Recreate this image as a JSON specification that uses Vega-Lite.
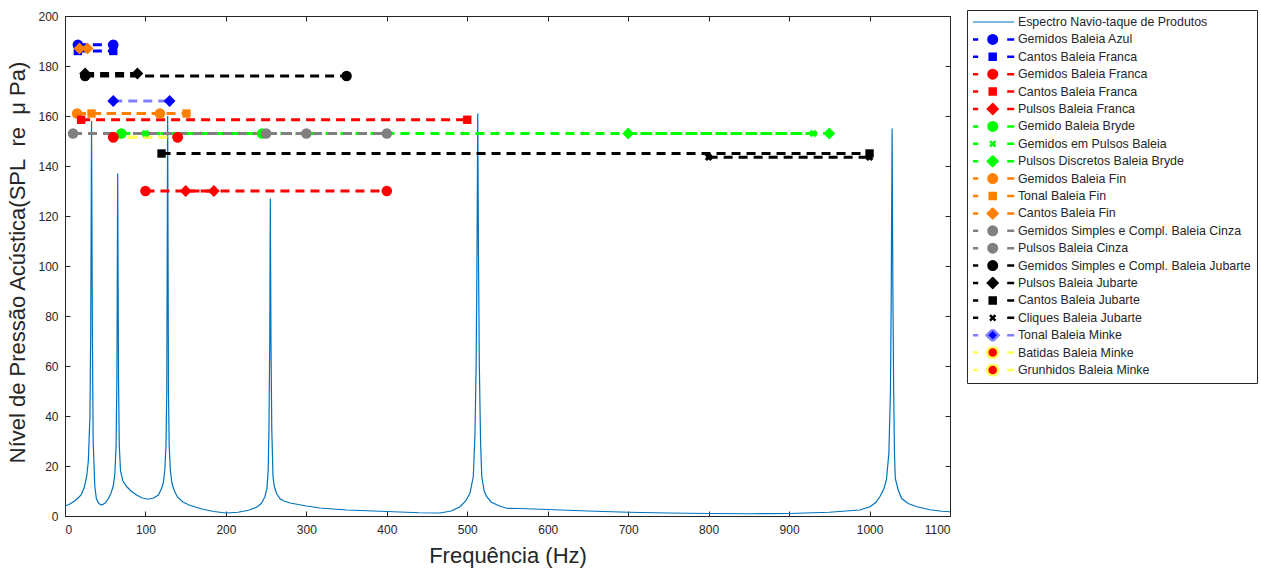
{
  "$schema": "https://vega.github.io/schema/vega-lite/v6.json",
  "width": 885,
  "height": 500,
  "autosize": {"type": "none"},
  "padding": {"left": 65, "top": 16, "right": 311, "bottom": 54},
  "background": "white",
  "config": {
    "font": "Liberation Sans",
    "view": {"stroke": "#262626", "strokeWidth": 1},
    "axis": {
      "grid": false,
      "labelFont": "Liberation Sans",
      "labelFontSize": 12,
      "labelColor": "#262626",
      "tickColor": "#262626",
      "domainColor": "#262626",
      "tickSize": -5,
      "titleFont": "Liberation Sans",
      "titleFontSize": 22,
      "titleFontWeight": "normal",
      "titleColor": "#262626"
    }
  },
  "datasets": {
    "spectrum": [
      {"f": 0, "spl": 4.0}, {"f": 5, "spl": 4.6}, {"f": 10, "spl": 5.6}, {"f": 15, "spl": 6.8}, {"f": 20, "spl": 8.4},
      {"f": 24, "spl": 11.5}, {"f": 27, "spl": 16}, {"f": 29, "spl": 22}, {"f": 31, "spl": 40}, {"f": 32, "spl": 75},
      {"f": 33, "spl": 158}, {"f": 34, "spl": 75}, {"f": 35, "spl": 30}, {"f": 37, "spl": 12}, {"f": 39, "spl": 7},
      {"f": 42, "spl": 5}, {"f": 45.6, "spl": 4.4}, {"f": 50, "spl": 5.2}, {"f": 54, "spl": 7}, {"f": 57, "spl": 9},
      {"f": 60, "spl": 12}, {"f": 62, "spl": 17}, {"f": 63.5, "spl": 28}, {"f": 64.5, "spl": 55}, {"f": 65.5, "spl": 137},
      {"f": 66.5, "spl": 55}, {"f": 67.5, "spl": 28}, {"f": 69, "spl": 18}, {"f": 72, "spl": 14}, {"f": 76.6, "spl": 11.8},
      {"f": 82, "spl": 10}, {"f": 89, "spl": 8.4}, {"f": 96, "spl": 7.2}, {"f": 103.6, "spl": 6.7}, {"f": 110, "spl": 7.2},
      {"f": 116, "spl": 8.4}, {"f": 120, "spl": 11}, {"f": 122, "spl": 13}, {"f": 124, "spl": 18}, {"f": 125.5, "spl": 28},
      {"f": 126.5, "spl": 50}, {"f": 127.6, "spl": 160}, {"f": 128.6, "spl": 50}, {"f": 129.5, "spl": 28}, {"f": 131, "spl": 18},
      {"f": 133, "spl": 13}, {"f": 136, "spl": 10}, {"f": 140, "spl": 7.5}, {"f": 147, "spl": 5.5}, {"f": 155, "spl": 4.3},
      {"f": 170, "spl": 2.8}, {"f": 185, "spl": 1.8}, {"f": 200, "spl": 1.2}, {"f": 215, "spl": 1.5}, {"f": 228, "spl": 2.3},
      {"f": 238, "spl": 3.5}, {"f": 244, "spl": 5}, {"f": 248.6, "spl": 7.8}, {"f": 251, "spl": 11}, {"f": 252.5, "spl": 18},
      {"f": 253.5, "spl": 35}, {"f": 254.5, "spl": 70}, {"f": 255.2, "spl": 127}, {"f": 256, "spl": 70}, {"f": 257, "spl": 35},
      {"f": 258.5, "spl": 16}, {"f": 260, "spl": 12}, {"f": 263, "spl": 9}, {"f": 267, "spl": 7}, {"f": 272, "spl": 6},
      {"f": 280, "spl": 5.2}, {"f": 300, "spl": 4}, {"f": 317, "spl": 3.2}, {"f": 350, "spl": 2.4}, {"f": 400, "spl": 1.8},
      {"f": 440, "spl": 1.3}, {"f": 466, "spl": 1.2}, {"f": 480, "spl": 2}, {"f": 491, "spl": 3.7}, {"f": 498, "spl": 6},
      {"f": 503.4, "spl": 9.2}, {"f": 507.5, "spl": 15.8}, {"f": 509.6, "spl": 33}, {"f": 511, "spl": 60}, {"f": 512, "spl": 100},
      {"f": 513, "spl": 161}, {"f": 514, "spl": 100}, {"f": 515, "spl": 60}, {"f": 516.5, "spl": 30}, {"f": 518, "spl": 15.8},
      {"f": 521, "spl": 10}, {"f": 524, "spl": 7.8}, {"f": 530, "spl": 5.5}, {"f": 540, "spl": 4}, {"f": 549, "spl": 3.1},
      {"f": 565, "spl": 3}, {"f": 600, "spl": 2.6}, {"f": 650, "spl": 2}, {"f": 700, "spl": 1.5}, {"f": 750, "spl": 1.2},
      {"f": 800, "spl": 1}, {"f": 850, "spl": 0.9}, {"f": 900, "spl": 1}, {"f": 950, "spl": 1.5}, {"f": 975, "spl": 2.1},
      {"f": 988, "spl": 2.4}, {"f": 1000.6, "spl": 3.7}, {"f": 1008, "spl": 5.5}, {"f": 1013, "spl": 7.8}, {"f": 1018, "spl": 11},
      {"f": 1021, "spl": 14.5}, {"f": 1024, "spl": 25}, {"f": 1026, "spl": 50}, {"f": 1027, "spl": 90}, {"f": 1028, "spl": 155},
      {"f": 1029, "spl": 90}, {"f": 1030, "spl": 50}, {"f": 1031, "spl": 25}, {"f": 1032, "spl": 15}, {"f": 1036, "spl": 10},
      {"f": 1040, "spl": 7}, {"f": 1048, "spl": 5}, {"f": 1059, "spl": 3.7}, {"f": 1075, "spl": 2.5}, {"f": 1090, "spl": 1.9},
      {"f": 1100, "spl": 1.7}
    ],
    "calls": [
      {"series": "Gemidos Baleia Azul", "f": 16, "spl": 188.5}, {"series": "Gemidos Baleia Azul", "f": 60, "spl": 188.5},
      {"series": "Cantos Baleia Franca ", "f": 16, "spl": 186}, {"series": "Cantos Baleia Franca ", "f": 60, "spl": 186},
      {"series": "Gemidos Baleia Franca", "f": 100, "spl": 130}, {"series": "Gemidos Baleia Franca", "f": 400, "spl": 130},
      {"series": "Cantos Baleia Franca", "f": 20, "spl": 158.5}, {"series": "Cantos Baleia Franca", "f": 500, "spl": 158.5},
      {"series": "Pulsos Baleia Franca", "f": 150, "spl": 130}, {"series": "Pulsos Baleia Franca", "f": 185, "spl": 130},
      {"series": "Gemido Baleia Bryde", "f": 70, "spl": 153}, {"series": "Gemido Baleia Bryde", "f": 245, "spl": 153},
      {"series": "Gemidos em Pulsos Baleia", "f": 100, "spl": 153}, {"series": "Gemidos em Pulsos Baleia", "f": 930, "spl": 153},
      {"series": "Pulsos Discretos  Baleia Bryde", "f": 700, "spl": 153}, {"series": "Pulsos Discretos  Baleia Bryde", "f": 950, "spl": 153},
      {"series": "Gemidos Baleia Fin", "f": 15, "spl": 161}, {"series": "Gemidos Baleia Fin", "f": 118, "spl": 161},
      {"series": "Tonal Baleia Fin", "f": 33, "spl": 161}, {"series": "Tonal Baleia Fin", "f": 151, "spl": 161},
      {"series": "Cantos Baleia Fin", "f": 18, "spl": 187}, {"series": "Cantos Baleia Fin", "f": 28, "spl": 187},
      {"series": "Gemidos Simples e Compl. Baleia Cinza", "f": 10, "spl": 153}, {"series": "Gemidos Simples e Compl. Baleia Cinza", "f": 400, "spl": 153},
      {"series": "Pulsos Baleia Cinza", "f": 250, "spl": 153}, {"series": "Pulsos Baleia Cinza", "f": 300, "spl": 153},
      {"series": "Gemidos Simples e Compl. Baleia Jubarte", "f": 25, "spl": 176}, {"series": "Gemidos Simples e Compl. Baleia Jubarte", "f": 350, "spl": 176},
      {"series": "Pulsos Baleia Jubarte", "f": 25, "spl": 177}, {"series": "Pulsos Baleia Jubarte", "f": 90, "spl": 177},
      {"series": "Cantos Baleia Jubarte", "f": 120, "spl": 145}, {"series": "Cantos Baleia Jubarte", "f": 1000, "spl": 145},
      {"series": "Cliques Baleia Jubarte", "f": 800, "spl": 143.5}, {"series": "Cliques Baleia Jubarte", "f": 1000, "spl": 143.5},
      {"series": "Tonal Baleia Minke", "f": 60, "spl": 166}, {"series": "Tonal Baleia Minke", "f": 130, "spl": 166},
      {"series": "Batidas Baleia Minke", "f": 60, "spl": 151.5}, {"series": "Batidas Baleia Minke", "f": 140, "spl": 151.5},
      {"series": "Grunhidos Baleia Minke", "f": 60, "spl": 151.5}, {"series": "Grunhidos Baleia Minke", "f": 140, "spl": 151.5}
    ]
  },
  "layer": [
    {
      "data": {"name": "spectrum"},
      "mark": {"type": "line", "color": "#0072BD", "strokeWidth": 1.2},
      "encoding": {
        "x": {"field": "f", "type": "quantitative", "scale": {"domain": [0, 1100], "nice": false, "zero": false},
              "axis": {"orient": "bottom", "values": [0,100,200,300,400,500,600,700,800,900,1000,1100], "format": "d", "title": "Frequência (Hz)", "labelPadding": 13, "titlePadding": 10}},
        "y": {"field": "spl", "type": "quantitative", "scale": {"domain": [0, 200], "nice": false},
              "axis": {"orient": "left", "values": [0,20,40,60,80,100,120,140,160,180,200], "format": "d", "title": "Nível de Pressão Acústica(SPL\u00a0\u00a0re\u00a0 μ Pa)", "labelPadding": 12, "titlePadding": 8, "titleY": 246}}
      }
    },
    {
      "data": {"name": "calls"},
      "mark": {"type": "line", "strokeWidth": 3, "strokeDash": [9, 6]},
      "encoding": {
        "x": {"field": "f", "type": "quantitative", "axis": null},
        "y": {"field": "spl", "type": "quantitative", "axis": null},
        "stroke": {"field": "series", "type": "nominal",
          "scale": {
            "domain": ["Espectro Navio-taque de Produtos","Gemidos Baleia Azul","Cantos Baleia Franca ","Gemidos Baleia Franca","Cantos Baleia Franca","Pulsos Baleia Franca","Gemido Baleia Bryde","Gemidos em Pulsos Baleia","Pulsos Discretos  Baleia Bryde","Gemidos Baleia Fin","Tonal Baleia Fin","Cantos Baleia Fin","Gemidos Simples e Compl. Baleia Cinza","Pulsos Baleia Cinza","Gemidos Simples e Compl. Baleia Jubarte","Pulsos Baleia Jubarte","Cantos Baleia Jubarte","Cliques Baleia Jubarte","Tonal Baleia Minke","Batidas Baleia Minke","Grunhidos Baleia Minke"],
            "range": ["#0072BD","#0000FF","#0000FF","#FF0000","#FF0000","#FF0000","#00FF00","#00FF00","#00FF00","#FF8000","#FF8000","#FF8000","#808080","#808080","#000000","#000000","#000000","#000000","#8080FF","#FFFF55","#FFFF55"]
          }
        }
      }
    },
    {
      "data": {"name": "calls"},
      "transform": [{"filter": {"field": "series", "oneOf": ["Gemidos Baleia Azul","Gemidos Baleia Franca","Gemido Baleia Bryde","Gemidos Baleia Fin","Gemidos Simples e Compl. Baleia Cinza","Pulsos Baleia Cinza","Gemidos Simples e Compl. Baleia Jubarte","Batidas Baleia Minke","Grunhidos Baleia Minke"]}}],
      "mark": {"type": "point", "shape": "circle", "filled": true, "size": 110, "opacity": 1},
      "encoding": {
        "x": {"field": "f", "type": "quantitative", "axis": null},
        "y": {"field": "spl", "type": "quantitative", "axis": null},
        "fill": {"field": "series", "type": "nominal",
          "scale": {
            "domain": ["Espectro Navio-taque de Produtos","Gemidos Baleia Azul","Cantos Baleia Franca ","Gemidos Baleia Franca","Cantos Baleia Franca","Pulsos Baleia Franca","Gemido Baleia Bryde","Gemidos em Pulsos Baleia","Pulsos Discretos  Baleia Bryde","Gemidos Baleia Fin","Tonal Baleia Fin","Cantos Baleia Fin","Gemidos Simples e Compl. Baleia Cinza","Pulsos Baleia Cinza","Gemidos Simples e Compl. Baleia Jubarte","Pulsos Baleia Jubarte","Cantos Baleia Jubarte","Cliques Baleia Jubarte","Tonal Baleia Minke","Batidas Baleia Minke","Grunhidos Baleia Minke"],
            "range": ["#0072BD","#0000FF","#0000FF","#FF0000","#FF0000","#FF0000","#00FF00","#00FF00","#00FF00","#FF8000","#FF8000","#FF8000","#808080","#808080","#000000","#000000","#000000","#000000","#0000FF","#FF0000","#FF0000"]
          }
        }
      }
    },
    {
      "data": {"name": "calls"},
      "transform": [{"filter": {"field": "series", "oneOf": ["Cantos Baleia Franca ","Cantos Baleia Franca","Tonal Baleia Fin","Cantos Baleia Jubarte"]}}],
      "mark": {"type": "point", "shape": "square", "filled": true, "size": 70, "opacity": 1},
      "encoding": {
        "x": {"field": "f", "type": "quantitative", "axis": null},
        "y": {"field": "spl", "type": "quantitative", "axis": null},
        "fill": {"field": "series", "type": "nominal"}
      }
    },
    {
      "data": {"name": "calls"},
      "transform": [{"filter": {"field": "series", "oneOf": ["Pulsos Baleia Franca","Pulsos Discretos  Baleia Bryde","Cantos Baleia Fin","Pulsos Baleia Jubarte","Tonal Baleia Minke"]}}],
      "mark": {"type": "point", "shape": "diamond", "filled": true, "size": 140, "opacity": 1},
      "encoding": {
        "x": {"field": "f", "type": "quantitative", "axis": null},
        "y": {"field": "spl", "type": "quantitative", "axis": null},
        "fill": {"field": "series", "type": "nominal"}
      }
    },
    {
      "data": {"name": "calls"},
      "transform": [{"filter": {"field": "series", "oneOf": ["Gemidos em Pulsos Baleia","Cliques Baleia Jubarte"]}}],
      "mark": {"type": "point", "shape": "cross", "angle": 45, "filled": true, "size": 60, "opacity": 1},
      "encoding": {
        "x": {"field": "f", "type": "quantitative", "axis": null},
        "y": {"field": "spl", "type": "quantitative", "axis": null},
        "fill": {"field": "series", "type": "nominal"}
      }
    },
    {
      "data": {"name": "calls"},
      "transform": [{"filter": "datum.f < 0"}],
      "mark": {"type": "point", "filled": true},
      "encoding": {
        "x": {"field": "f", "type": "quantitative", "axis": {"orient": "top", "labels": false, "title": null, "domain": false, "values": [0,100,200,300,400,500,600,700,800,900,1000,1100]}},
        "y": {"field": "spl", "type": "quantitative", "axis": {"orient": "right", "labels": false, "title": null, "domain": false, "values": [0,20,40,60,80,100,120,140,160,180,200]}},
        "fill": {"field": "series", "type": "nominal",
          "legend": {"orient": "none", "legendX": 902, "legendY": -6, "title": null, "padding": 6, "strokeColor": "#262626", "fillColor": "white", "symbolSize": 100, "symbolOffset": 13.5, "labelOffset": 19, "labelFont": "Liberation Sans", "labelFontSize": 12.4, "labelColor": "#262626", "labelLimit": 400, "rowPadding": 4.4, "clipHeight": 12, "symbolOpacity": 1, "symbolStrokeWidth": 2.5,
            "encode": {"symbols": {"update": {"strokeWidth": {"signal": "datum.value === 'Espectro Navio-taque de Produtos' ? 1.2 : 2.5"}, "strokeDash": {"value": []}}}}}
        },
        "stroke": {"field": "series", "type": "nominal",
          "legend": {"orient": "none", "legendX": 902, "legendY": -6, "title": null, "padding": 6, "strokeColor": "#262626", "fillColor": "white", "symbolSize": 100, "symbolOffset": 13.5, "labelOffset": 19, "labelFont": "Liberation Sans", "labelFontSize": 12.4, "labelColor": "#262626", "labelLimit": 400, "rowPadding": 4.4, "clipHeight": 12, "symbolOpacity": 1, "symbolStrokeWidth": 2.5,
            "encode": {"symbols": {"update": {"strokeWidth": {"signal": "datum.value === 'Espectro Navio-taque de Produtos' ? 1.2 : 2.5"}, "strokeDash": {"value": []}}}}}
        },
        "shape": {"field": "series", "type": "nominal",
          "scale": {
            "domain": ["Espectro Navio-taque de Produtos","Gemidos Baleia Azul","Cantos Baleia Franca ","Gemidos Baleia Franca","Cantos Baleia Franca","Pulsos Baleia Franca","Gemido Baleia Bryde","Gemidos em Pulsos Baleia","Pulsos Discretos  Baleia Bryde","Gemidos Baleia Fin","Tonal Baleia Fin","Cantos Baleia Fin","Gemidos Simples e Compl. Baleia Cinza","Pulsos Baleia Cinza","Gemidos Simples e Compl. Baleia Jubarte","Pulsos Baleia Jubarte","Cantos Baleia Jubarte","Cliques Baleia Jubarte","Tonal Baleia Minke","Batidas Baleia Minke","Grunhidos Baleia Minke"],
            "range": [
              "M-4.3,0H4.3",
              "M-4.3,0H-2.9M2.9,0H4.3M0.85,0A0.85,0.85,0,1,1,-0.85,0A0.85,0.85,0,1,1,0.85,0Z",
              "M-4.3,0H-2.9M2.9,0H4.3M-0.6,-0.6H0.6V0.6H-0.6Z",
              "M-4.3,0H-2.9M2.9,0H4.3M0.85,0A0.85,0.85,0,1,1,-0.85,0A0.85,0.85,0,1,1,0.85,0Z",
              "M-4.3,0H-2.9M2.9,0H4.3M-0.6,-0.6H0.6V0.6H-0.6Z",
              "M-4.3,0H-2.9M2.9,0H4.3M0,-0.95L0.95,0L0,0.95L-0.95,0Z",
              "M-4.3,0H-2.9M2.9,0H4.3M0.85,0A0.85,0.85,0,1,1,-0.85,0A0.85,0.85,0,1,1,0.85,0Z",
              "M-4.3,0H-2.9M2.9,0H4.3M-0.55,-0.55L0.55,0.55M-0.55,0.55L0.55,-0.55",
              "M-4.3,0H-2.9M2.9,0H4.3M0,-0.95L0.95,0L0,0.95L-0.95,0Z",
              "M-4.3,0H-2.9M2.9,0H4.3M0.85,0A0.85,0.85,0,1,1,-0.85,0A0.85,0.85,0,1,1,0.85,0Z",
              "M-4.3,0H-2.9M2.9,0H4.3M-0.6,-0.6H0.6V0.6H-0.6Z",
              "M-4.3,0H-2.9M2.9,0H4.3M0,-0.95L0.95,0L0,0.95L-0.95,0Z",
              "M-4.3,0H-2.9M2.9,0H4.3M0.85,0A0.85,0.85,0,1,1,-0.85,0A0.85,0.85,0,1,1,0.85,0Z",
              "M-4.3,0H-2.9M2.9,0H4.3M0.85,0A0.85,0.85,0,1,1,-0.85,0A0.85,0.85,0,1,1,0.85,0Z",
              "M-4.3,0H-2.9M2.9,0H4.3M0.85,0A0.85,0.85,0,1,1,-0.85,0A0.85,0.85,0,1,1,0.85,0Z",
              "M-4.3,0H-2.9M2.9,0H4.3M0,-0.95L0.95,0L0,0.95L-0.95,0Z",
              "M-4.3,0H-2.9M2.9,0H4.3M-0.6,-0.6H0.6V0.6H-0.6Z",
              "M-4.3,0H-2.9M2.9,0H4.3M-0.55,-0.55L0.55,0.55M-0.55,0.55L0.55,-0.55",
              "M-4.3,0H-2.9M2.9,0H4.3M0,-1.2L1.2,0L0,1.2L-1.2,0Z",
              "M-4.3,0H-2.9M2.9,0H4.3M1.1,0A1.1,1.1,0,1,1,-1.1,0A1.1,1.1,0,1,1,1.1,0Z",
              "M-4.3,0H-2.9M2.9,0H4.3M1.1,0A1.1,1.1,0,1,1,-1.1,0A1.1,1.1,0,1,1,1.1,0Z"
            ]
          },
          "legend": {"orient": "none", "legendX": 902, "legendY": -6, "title": null, "padding": 6, "strokeColor": "#262626", "fillColor": "white", "symbolSize": 100, "symbolOffset": 13.5, "labelOffset": 19, "labelFont": "Liberation Sans", "labelFontSize": 12.4, "labelColor": "#262626", "labelLimit": 400, "rowPadding": 4.4, "clipHeight": 12, "symbolOpacity": 1, "symbolStrokeWidth": 2.5,
            "encode": {"symbols": {"update": {"strokeWidth": {"signal": "datum.value === 'Espectro Navio-taque de Produtos' ? 1.2 : 2.5"}, "strokeDash": {"value": []}}}}}
        }
      }
    }
  ]
}
